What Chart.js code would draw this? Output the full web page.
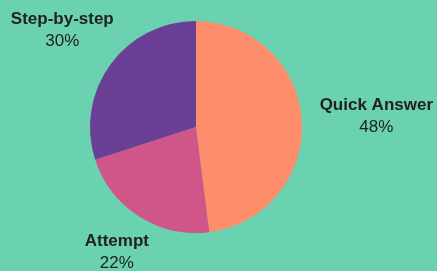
<!DOCTYPE html>
<html>
<head>
<meta charset="utf-8">
<script src="https://cdn.jsdelivr.net/npm/chart.js@4.4.1/dist/chart.umd.min.js"></script>
<style>
  html, body { margin: 0; padding: 0; background: #6ad2b0; }
  #wrap { width: 437px; height: 271px; position: relative; }
</style>
</head>
<body>
<div id="wrap"><canvas id="c" width="437" height="271"></canvas></div>
<script>
const categories = ["Quick Answer", "Attempt", "Step-by-step"];
const values = [48, 22, 30];
const percentLabels = ["48%", "22%", "30%"];
const colors = ["#fe8d6c", "#d0568a", "#6a3f95"];

const FONT = '"Liberation Sans", Arial, sans-serif';
const outLabels = {
  id: 'outLabels',
  afterDatasetsDraw(chart) {
    const ctx = chart.ctx;
    const meta = chart.getDatasetMeta(0);
    const lh = 22;
    meta.data.forEach((arc, i) => {
      const mid = (arc.startAngle + arc.endAngle) / 2;
      const dx = Math.cos(mid), dy = Math.sin(mid);
      const pad = 11 + 6 * dx * Math.abs(dx);
      ctx.save();
      ctx.font = 'bold 17px ' + FONT;
      const w1 = ctx.measureText(categories[i]).width;
      ctx.font = '17px ' + FONT;
      const w2 = ctx.measureText(percentLabels[i]).width;
      const hw = Math.max(w1, w2) / 2, hh = 18;
      const ext = Math.abs(dx) * hw + Math.abs(dy) * hh;
      const d = arc.outerRadius + pad + ext;
      const cx = arc.x + dx * d, cy = arc.y + dy * d;
      ctx.fillStyle = '#222222';
      ctx.textAlign = 'center';
      ctx.textBaseline = 'alphabetic';
      ctx.font = 'bold 17px ' + FONT;
      ctx.fillText(categories[i], cx, cy - 6);
      ctx.font = '17px ' + FONT;
      ctx.fillText(percentLabels[i], cx, cy - 6 + lh);
      ctx.restore();
    });
  }
};

new Chart(document.getElementById('c'), {
  type: 'pie',
  data: {
    labels: categories,
    datasets: [{
      data: values,
      backgroundColor: colors,
      borderWidth: 0
    }]
  },
  options: {
    responsive: false,
    animation: false,
    layout: { padding: { top: 21, bottom: 38, left: 0, right: 45 } },
    plugins: {
      legend: { display: false },
      tooltip: { enabled: false }
    }
  },
  plugins: [outLabels]
});
</script>
</body>
</html>
